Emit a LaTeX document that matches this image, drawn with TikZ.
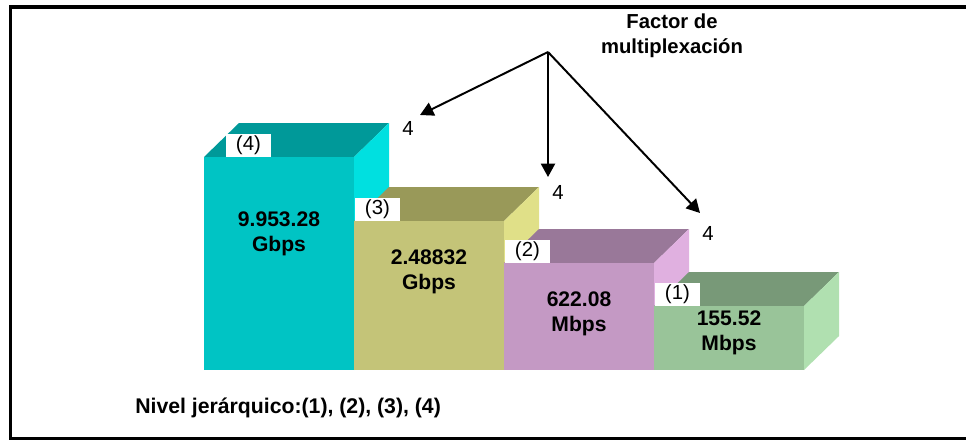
\documentclass[tikz,border=0pt]{standalone}
\usepackage{fontspec}
\setmainfont{Liberation Sans}
\usetikzlibrary{arrows.meta}
\definecolor{cianF}{HTML}{00C4C4}
\definecolor{cianT}{HTML}{009999}
\definecolor{cianS}{HTML}{00E0E0}
\definecolor{olivaF}{HTML}{C4C478}
\definecolor{olivaT}{HTML}{999959}
\definecolor{olivaS}{HTML}{E0E088}
\definecolor{lilaF}{HTML}{C499C4}
\definecolor{lilaT}{HTML}{997899}
\definecolor{lilaS}{HTML}{E0B0E0}
\definecolor{verdeF}{HTML}{99C499}
\definecolor{verdeT}{HTML}{789978}
\definecolor{verdeS}{HTML}{B0E0B0}
\begin{document}
\begin{tikzpicture}[x=0.025cm,y=-0.025cm,
    nivelbox/.style={fill=white,anchor=south west,inner sep=0pt,minimum width=31.5pt,minimum height=16.4pt,font=\fontsize{14.5}{17}\selectfont},
    valor/.style={align=center,inner sep=0pt,font=\bfseries\fontsize{15}{17.8}\selectfont},
    factor/.style={inner sep=0pt,font=\fontsize{14.5}{17}\selectfont},
    flecha/.style={line width=1.4pt,-{Triangle[length=9.5pt,width=10pt]}}]
    \useasboundingbox (0,0) rectangle (966,443);
    % marco
    \draw[line width=2.2pt] (966,7) -- (10.5,7) -- (10.5,438.5) -- (966,438.5);
    % bloques: x / y superior / color / nivel / desplazamiento etiqueta / valor / unidad / y texto
    \foreach \x/\yt/\c/\niv/\off/\val/\uni/\yv in {204/157/cian/4/22/9.953.28/Gbps/234,
        354/221/oliva/3/1/2.48832/Gbps/272,
        504/263/lila/2/1/622.08/Mbps/314,
        654/306/verde/1/1/155.52/Mbps/333}
    {
        \fill[fill={\c T}] (\x,\yt) -- ++(35,-34) -- ++(150,0) -- ++(-35,34) -- cycle;
        \fill[fill={\c S}] (\x+150,\yt) -- ++(35,-34) -- (\x+185,336) -- (\x+150,370) -- cycle;
        \fill[fill={\c F}] (\x,\yt) rectangle (\x+150,370);
        \node[nivelbox] (n\niv) at (\x+\off,\yt) {(\niv)};
        \node[valor] (v\niv) at (\x+75,\yv) {\val\\\uni};
    }
    % factor de multiplexacion
    \node[align=center,inner sep=0pt,font=\bfseries\fontsize{14.4}{17.8}\selectfont] (fm) at (672,36) {Factor de\\multiplexación};
    \coordinate (orig) at (548,52);
    \node[factor] (f4) at (408,128) {4};
    \node[factor] (f3) at (558,192) {4};
    \node[factor] (f2) at (708,233) {4};
    \coordinate (p4) at (420,115);
    \coordinate (p3) at (548,177);
    \coordinate (p2) at (700,213);
    \draw[flecha] (orig) -- (p4);
    \draw[flecha] (orig) -- (p3);
    \draw[flecha] (orig) -- (p2);
    \node[anchor=west,inner sep=0pt,font=\bfseries\fontsize{15.1}{18}\selectfont] (nivel) at (135,407.5) {Nivel jerárquico:(1), (2), (3), (4)};
\end{tikzpicture}
\end{document}
